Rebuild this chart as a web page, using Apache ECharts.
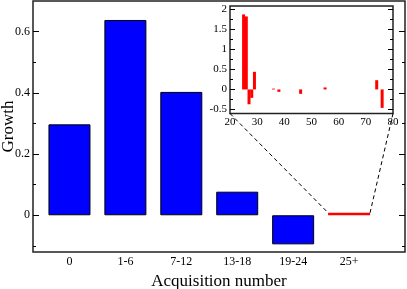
<!DOCTYPE html>
<html><head><meta charset="utf-8">
<script src="https://cdn.jsdelivr.net/npm/echarts@6/dist/echarts.min.js"></script>
<style>html,body{margin:0;padding:0;background:#fff}#c{width:407px;height:289px}</style>
</head><body><div id="c"></div>
<script>
var categories = ['0', '1-6', '7-12', '13-18', '19-24', '25+'];
var mainValues = [0.297, 0.638, 0.403, 0.077, -0.095];
var lastValue = 0.008;
var mainTicks = [0, 0.2, 0.4, 0.6];
var mainMinorTicks = [-0.1, 0.1, 0.3, 0.5];
var insetX = [25, 26, 27, 28, 29, 36, 38, 46, 55, 74, 76];
var insetY = [1.87, 1.82, -0.37, -0.21, 0.44, 0.02, -0.06, -0.11, 0.05, 0.23, -0.46];
var insetYTicks = [-0.5, 0, 0.5, 1, 1.5, 2];
var insetYMinor = [-0.25, 0.25, 0.75, 1.25, 1.75];
var insetXTicks = [20, 30, 40, 50, 60, 70, 80];

var FONT = 'Liberation Serif';
var chart = echarts.init(document.getElementById('c'));
var mainMin = -0.12, mainMax = 0.7, xMin = -0.652, xMax = 6.0;
var inMin = -0.6, inMax = 2.08;

var mainBox = {left: 33, top: 1, right: 2, bottom: 37};
var insetBox = {left: 230, top: 6, width: 163, height: 107.5};

function yAx(grid, min, max, pos, ticks, len, labels, z) {
  return {
    type: 'value', gridIndex: grid, min: min, max: max, position: pos, z: z || 0,
    splitLine: {show: false}, axisLine: {show: false, onZero: false},
    axisTick: {show: true, inside: true, length: len, customValues: ticks, lineStyle: {color: '#000', width: 1}},
    axisLabel: labels ? {show: true, customValues: ticks, fontFamily: FONT, fontSize: labels, color: '#000', margin: 3,
      formatter: function (v) { return String(Math.round(v * 100) / 100); }} : {show: false}
  };
}
function xHidden(grid, min, max, z) {
  return {type: 'value', gridIndex: grid, min: min, max: max, show: false, z: z || 0,
    axisLine: {show: false, onZero: false}, splitLine: {show: false}};
}

var mainData = mainValues.map(function (v, i) { return [i, v]; });
var insetData = insetX.map(function (x, i) { return [x, insetY[i]]; });

chart.setOption({
  animation: false,
  grid: [
    Object.assign({outerBoundsMode: 'none', containLabel: false, show: true, borderColor: '#222', borderWidth: 1.5, backgroundColor: 'transparent'}, mainBox),
    Object.assign({outerBoundsMode: 'none', containLabel: false, show: true, borderColor: '#222', borderWidth: 1.5, backgroundColor: '#fff', z: 5}, insetBox),
    Object.assign({outerBoundsMode: 'none', containLabel: false, show: false}, mainBox),
    Object.assign({outerBoundsMode: 'none', containLabel: false, show: false, z: 6}, insetBox)
  ],
  xAxis: [
    {type: 'value', gridIndex: 0, min: xMin, max: xMax, splitLine: {show: false}, axisLine: {show: false, onZero: false},
      axisTick: {show: false},
      axisLabel: {customValues: [0, 1, 2, 3, 4, 5], fontFamily: FONT, fontSize: 12, color: '#000', margin: 4,
        formatter: function (v) { return categories[Math.round(v)]; }},
      name: 'Acquisition number', nameLocation: 'middle', nameGap: 21, nameMoveOverlap: false,
      nameTextStyle: {fontFamily: FONT, fontSize: 17, color: '#000'}},
    {type: 'value', gridIndex: 1, min: 20, max: 80, z: 6, splitLine: {show: false}, axisLine: {show: false, onZero: false},
      axisTick: {show: false},
      axisLabel: {customValues: insetXTicks, fontFamily: FONT, fontSize: 11, color: '#000', margin: 3}},
    xHidden(2, xMin, xMax),
    xHidden(3, 20, 80, 6)
  ],
  yAxis: [
    Object.assign(yAx(0, mainMin, mainMax, 'left', mainTicks, 6, 12), {
      name: 'Growth', nameLocation: 'middle', nameGap: 16, nameRotate: 90, nameMoveOverlap: false,
      nameTextStyle: {fontFamily: FONT, fontSize: 17, color: '#000'}}),
    yAx(0, mainMin, mainMax, 'right', mainTicks, 6, 0),
    yAx(1, inMin, inMax, 'left', insetYTicks, 5, 11, 6),
    yAx(1, inMin, inMax, 'right', insetYTicks, 5, 0, 6),
    yAx(2, mainMin, mainMax, 'left', mainMinorTicks, 3, 0),
    yAx(2, mainMin, mainMax, 'right', mainMinorTicks, 3, 0),
    yAx(3, inMin, inMax, 'left', insetYMinor, 3, 0, 6),
    yAx(3, inMin, inMax, 'right', insetYMinor, 3, 0, 6)
  ],
  series: [
    {type: 'bar', xAxisIndex: 0, yAxisIndex: 0, data: mainData, barWidth: 42,
      itemStyle: {color: '#0000ff', borderColor: '#000', borderWidth: 1}},
    {type: 'bar', xAxisIndex: 0, yAxisIndex: 0, data: [[5, lastValue]], barWidth: 42, barGap: '-100%',
      itemStyle: {color: '#ff0000'}},
    {type: 'bar', xAxisIndex: 1, yAxisIndex: 2, data: insetData, barWidth: 3, z: 7,
      itemStyle: {color: '#ff0000'}}
  ]
});

var halfBar = 21 / 56;
var pA = chart.convertToPixel({xAxisIndex: 1, yAxisIndex: 2}, [20, inMin]);
var pB = chart.convertToPixel({xAxisIndex: 1, yAxisIndex: 2}, [80, inMin]);
var qA = chart.convertToPixel({xAxisIndex: 0, yAxisIndex: 0}, [5 - halfBar, lastValue]);
var qB = chart.convertToPixel({xAxisIndex: 0, yAxisIndex: 0}, [5 + halfBar, lastValue]);
chart.setOption({
  graphic: [
    {type: 'line', shape: {x1: pA[0], y1: pA[1], x2: qA[0], y2: qA[1]}, style: {stroke: '#000', lineWidth: 1, lineDash: [4, 3]}, z: 10},
    {type: 'line', shape: {x1: pB[0], y1: pB[1], x2: qB[0], y2: qB[1]}, style: {stroke: '#000', lineWidth: 1, lineDash: [4, 3]}, z: 10}
  ]
});
</script></body></html>
